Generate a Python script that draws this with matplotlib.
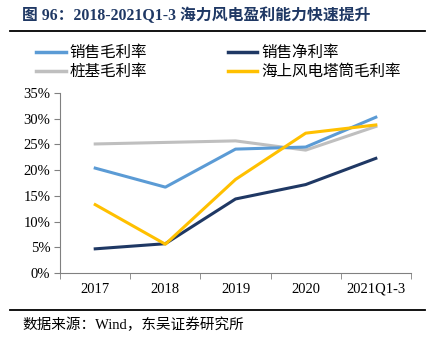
import matplotlib.pyplot as plt
from matplotlib.lines import Line2D

plt.rcParams['font.family'] = ['Liberation Serif', 'Noto Sans CJK SC']

periods = ['2017', '2018', '2019', '2020', '2021Q1-3']
gross_margin = [20.4, 16.7, 24.1, 24.5, 30.3]
net_margin = [4.7, 5.7, 14.4, 17.2, 22.3]
pile_gross_margin = [25.1, 25.4, 25.7, 23.9, 28.5]
offshore_tower_margin = [13.3, 5.6, 18.2, 27.2, 28.8]

c_gross = '#5B9BD5'
c_net = '#1F3864'
c_pile = '#BFBFBF'
c_tower = '#FFC000'

fig = plt.figure(figsize=(4.39, 3.46), dpi=100)
ax = fig.add_axes([0.137, 0.211, 0.799, 0.520])

x = range(len(periods))
lw = 2.2
ax.plot(x, pile_gross_margin, color=c_pile, lw=lw)
ax.plot(x, gross_margin, color=c_gross, lw=lw)
ax.plot(x, net_margin, color=c_net, lw=lw)
ax.plot(x, offshore_tower_margin, color=c_tower, lw=lw)

ax.set_xlim(-0.5, len(periods) - 0.5)
ax.set_ylim(0, 35)
ax.set_yticks(range(0, 36, 5))
ax.set_yticklabels([f'{v}%' for v in range(0, 36, 5)], fontsize=10.5)
ax.set_xticks(list(x))
ax.set_xticklabels(periods, fontsize=10.5)
ax.set_xticks([i - 0.5 for i in range(len(periods) + 1)], minor=True)
ax.tick_params(axis='x', which='major', length=0, pad=7)
ax.tick_params(axis='x', which='minor', length=4, color='#808080')
ax.tick_params(axis='y', length=4, color='#808080', pad=3)
for s in ['top', 'right']:
    ax.spines[s].set_visible(False)
for s in ['left', 'bottom']:
    ax.spines[s].set_color('#808080')
    ax.spines[s].set_linewidth(0.8)

# legend: two columns, filled column-wise
handles = [Line2D([], [], color=c, lw=2.5) for c in (c_gross, c_pile, c_net, c_tower)]
labels = ['销售毛利率', '桩基毛利率', '销售净利率', '海上风电塔筒毛利率']
fig.legend(handles, labels, ncol=2, loc='upper left', bbox_to_anchor=(0.05, 0.91),
           frameon=False, fontsize=11.2, handlelength=1.9, handletextpad=0.25,
           columnspacing=5.2, labelspacing=0.2)

fig.text(0.05, 0.955, '图 96：2018-2021Q1-3 海力风电盈利能力快速提升', fontsize=11.4,
         fontweight='bold', color='#1F3864', va='center', ha='left')
fig.add_artist(Line2D([0.023, 0.968], [0.911, 0.911], color='black', lw=1.3))
fig.add_artist(Line2D([0.023, 0.968], [0.104, 0.104], color='black', lw=1.3))
fig.text(0.05, 0.06, '数据来源：Wind，东吴证券研究所', fontsize=10.5, va='center', ha='left')

fig.savefig('out.png', dpi=100)
